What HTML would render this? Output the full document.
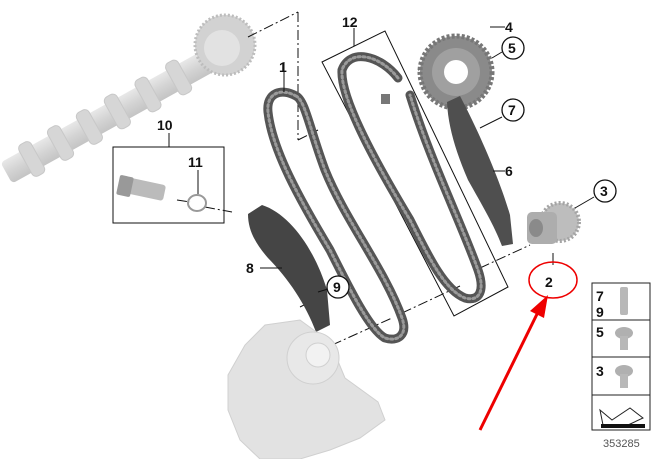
<!DOCTYPE html>
<html><head><style>
html,body{margin:0;padding:0;background:#fff;width:669px;height:459px;overflow:hidden}
text{font-family:"Liberation Sans",Arial,sans-serif;font-weight:bold;fill:#111}
</style></head><body>
<svg width="669" height="459" viewBox="0 0 669 459" xmlns="http://www.w3.org/2000/svg">
<defs>
<linearGradient id="cam" x1="0" y1="0" x2="0" y2="1"><stop offset="0" stop-color="#e8e8e8"/><stop offset="0.5" stop-color="#d4d4d4"/><stop offset="1" stop-color="#c4c4c4"/></linearGradient>
</defs>
<!-- camshaft -->
<g transform="rotate(-29 120 110)">
<rect x="-10" y="98" width="235" height="24" rx="4" fill="url(#cam)"/>
<g fill="#d6d6d6" stroke="#c8c8c8">
<rect x="12" y="92" width="14" height="36" rx="5"/>
<rect x="45" y="92" width="14" height="36" rx="5"/>
<rect x="78" y="92" width="14" height="36" rx="5"/>
<rect x="110" y="92" width="14" height="36" rx="5"/>
<rect x="145" y="92" width="14" height="36" rx="5"/>
<rect x="180" y="92" width="14" height="36" rx="5"/>
</g>
</g>
<circle cx="225" cy="45" r="30" fill="#d2d2d2" stroke="#bdbdbd" stroke-width="3" stroke-dasharray="2 2"/>
<circle cx="222" cy="48" r="18" fill="#e2e2e2"/>
<!-- dash lines -->
<g stroke="#111" stroke-width="1" fill="none" stroke-dasharray="10 3 2 3">
<line x1="248" y1="37" x2="298" y2="12"/>
<line x1="298" y1="12" x2="298" y2="140"/>
<line x1="298" y1="140" x2="318" y2="130"/>
<line x1="177" y1="200" x2="190" y2="202"/>
<line x1="205" y1="207" x2="232" y2="212"/>
<line x1="300" y1="307" x2="310" y2="302"/>
<line x1="332" y1="345" x2="392" y2="318"/>
<line x1="402" y1="313" x2="460" y2="286"/>
<line x1="480" y1="268" x2="530" y2="245"/>
<line x1="418" y1="70" x2="455" y2="58"/>
</g>
<!-- box 10 -->
<rect x="113" y="147" width="111" height="76" fill="none" stroke="#111"/>
<line x1="169" y1="133" x2="169" y2="147" stroke="#111"/>
<text x="157" y="130" font-size="14">10</text>
<text x="188" y="167" font-size="14">11</text>
<line x1="198" y1="170" x2="198" y2="194" stroke="#111"/>
<rect x="120" y="180" width="45" height="16" rx="3" fill="#bbb" transform="rotate(12 140 188)"/>
<rect x="118" y="176" width="14" height="20" rx="2" fill="#999" transform="rotate(12 125 186)"/>
<ellipse cx="197" cy="203" rx="9" ry="8" fill="none" stroke="#999" stroke-width="2"/>
<!-- box 12 -->
<polygon points="322,62 385,31 508,287 454,316" fill="none" stroke="#111"/>
<line x1="354" y1="28" x2="354" y2="46" stroke="#111"/>
<text x="342" y="27" font-size="14">12</text>
<!-- chains -->
<g fill="none" stroke-linecap="round">
<path d="M296,96 C282,88 266,92 268,112 C272,150 300,200 330,250 C350,290 370,330 385,338 C398,342 408,335 402,318 C385,270 345,220 325,170 C310,130 305,100 296,96Z" stroke="#555" stroke-width="9"/>
<path d="M296,96 C282,88 266,92 268,112 C272,150 300,200 330,250 C350,290 370,330 385,338 C398,342 408,335 402,318 C385,270 345,220 325,170 C310,130 305,100 296,96Z" stroke="#9a9a9a" stroke-width="3" stroke-dasharray="2 3"/>
<path d="M398,78 C380,55 350,48 342,70 C340,100 380,170 410,220 C430,260 445,290 465,298 C480,302 485,290 478,270 C460,220 430,160 410,95" stroke="#555" stroke-width="9"/>
<path d="M398,78 C380,55 350,48 342,70 C340,100 380,170 410,220 C430,260 445,290 465,298 C480,302 485,290 478,270 C460,220 430,160 410,95" stroke="#9a9a9a" stroke-width="3" stroke-dasharray="2 3"/>
</g>
<rect x="381" y="94" width="9" height="10" fill="#777"/>
<line x1="284" y1="62" x2="284" y2="92" stroke="#111"/>
<text x="279" y="72" font-size="14">1</text>
<!-- sprocket 4 -->
<circle cx="456" cy="72" r="36" fill="#8a8a8a" stroke="#777" stroke-width="5" stroke-dasharray="3 2"/>
<circle cx="456" cy="72" r="24" fill="#a0a0a0"/>
<circle cx="456" cy="72" r="12" fill="#fff"/>
<line x1="490" y1="27" x2="505" y2="27" stroke="#111"/>
<text x="505" y="32" font-size="14">4</text>
<line x1="492" y1="58" x2="502" y2="52" stroke="#111"/>
<circle cx="513" cy="48" r="11" fill="#fff" stroke="#111" stroke-width="1.3"/>
<text x="508" y="53" font-size="14">5</text>
<!-- guide 6/7 -->
<path d="M447,102 L460,96 C478,130 500,180 510,215 L513,244 L502,246 C494,225 482,205 468,180 C455,150 448,125 447,102Z" fill="#4f4f4f"/>
<line x1="480" y1="128" x2="502" y2="117" stroke="#111"/>
<circle cx="513" cy="110" r="11" fill="#fff" stroke="#111" stroke-width="1.3"/>
<text x="508" y="115" font-size="14">7</text>
<line x1="493" y1="171" x2="505" y2="171" stroke="#111"/>
<text x="505" y="176" font-size="14">6</text>
<!-- sprocket 3 -->
<circle cx="560" cy="222" r="19" fill="#bdbdbd" stroke="#a5a5a5" stroke-width="4" stroke-dasharray="2 2"/>
<rect x="527" y="212" width="30" height="32" rx="5" fill="#adadad"/>
<ellipse cx="536" cy="228" rx="7" ry="9" fill="#8a8a8a"/>
<line x1="575" y1="208" x2="594" y2="197" stroke="#111"/>
<circle cx="605" cy="191" r="11" fill="#fff" stroke="#111" stroke-width="1.3"/>
<text x="600" y="196" font-size="14">3</text>
<line x1="553" y1="253" x2="553" y2="265" stroke="#111"/>
<text x="545" y="287" font-size="14">2</text>
<ellipse cx="553" cy="280" rx="24" ry="18" fill="none" stroke="#e00" stroke-width="1.5"/>
<!-- red arrow -->
<line x1="480" y1="430" x2="540" y2="308" stroke="#e00" stroke-width="3"/>
<polygon points="548,295 544,318 530,311" fill="#e00"/>
<!-- guide 8/9 -->
<path d="M248,214 L262,205 C290,214 315,250 327,290 L330,325 L316,332 C306,305 288,278 268,258 C255,243 248,230 248,214Z" fill="#454545"/>
<line x1="260" y1="268" x2="282" y2="268" stroke="#111"/>
<text x="246" y="273" font-size="14">8</text>
<line x1="318" y1="292" x2="328" y2="289" stroke="#111"/>
<circle cx="338" cy="287" r="11" fill="#fff" stroke="#111" stroke-width="1.3"/>
<text x="333" y="292" font-size="14">9</text>
<!-- pump -->
<g fill="#e2e2e2" stroke="#d0d0d0">
<path d="M228,375 L245,345 L265,325 L300,320 L330,342 L345,378 L378,402 L385,420 L360,438 L330,450 L300,459 L260,459 L240,440 L228,410 Z"/>
<circle cx="313" cy="358" r="26" fill="#e8e8e8"/>
<circle cx="318" cy="355" r="12" fill="#f2f2f2"/>
</g>
<!-- legend -->
<g stroke="#222" fill="#fff">
<rect x="592" y="283" width="58" height="147"/>
<line x1="592" y1="320" x2="650" y2="320"/>
<line x1="592" y1="357" x2="650" y2="357"/>
<line x1="592" y1="395" x2="650" y2="395"/>
</g>
<text x="596" y="301" font-size="14">7</text>
<text x="596" y="317" font-size="14">9</text>
<text x="596" y="337" font-size="14">5</text>
<text x="596" y="376" font-size="14">3</text>
<rect x="620" y="287" width="8" height="28" rx="2" fill="#b8b8b8"/>
<ellipse cx="624" cy="333" rx="9" ry="6" fill="#b0b0b0"/>
<rect x="620" y="336" width="8" height="14" fill="#b8b8b8"/>
<ellipse cx="624" cy="371" rx="9" ry="6" fill="#b0b0b0"/>
<rect x="620" y="374" width="8" height="14" fill="#b8b8b8"/>
<path d="M600,410 L612,420 L630,408 L643,418 L628,425 L642,425 L603,425 Z" fill="#fff" stroke="#222"/>
<rect x="601" y="424" width="44" height="4" fill="#111"/>
<text x="603" y="447" font-size="11" style="font-weight:normal;fill:#555">353285</text>
</svg>
</body></html>
